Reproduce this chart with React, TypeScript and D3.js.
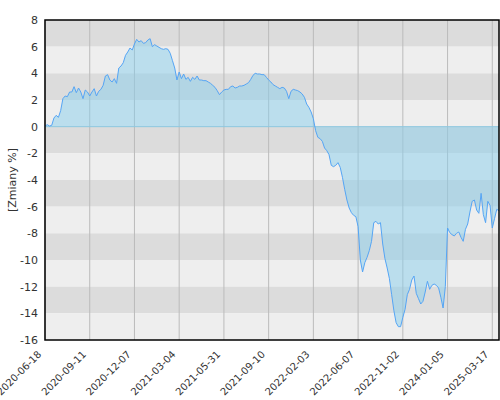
import React from "react";
import * as d3 from "d3";

const tickLabels = [
  "2020-06-18", "2020-09-11", "2020-12-07", "2021-03-04", "2021-05-31",
  "2021-09-10", "2022-02-03", "2022-06-07", "2022-11-02", "2024-01-05", "2025-03-17",
];
const tickStep = 20;
const yTicks = [8, 6, 4, 2, 0, -2, -4, -6, -8, -10, -12, -14, -16];

const values = [
  0.05, 0.15, 0.05, 0.1, 0.65, 0.85, 0.7, 1.2, 2.1, 2.3,
  2.25, 2.6, 2.6, 3.0, 2.55, 2.9, 2.6, 2.1, 2.75, 2.6,
  2.3, 2.6, 2.85, 2.3, 2.65, 2.8, 3.1, 3.8, 3.9, 3.5,
  3.35, 3.6, 3.25, 4.4, 4.55, 4.8, 5.35, 5.6, 5.9, 5.75,
  6.2, 6.55, 6.35, 6.45, 6.25, 6.3, 6.5, 6.6, 6.0, 6.15,
  6.05, 5.95, 5.85, 5.8, 5.85, 5.8, 5.5, 4.95, 4.4, 3.5,
  4.1, 3.6, 3.95, 3.55, 3.7, 3.4, 3.7, 3.55, 3.8, 3.5,
  3.5, 3.45, 3.45, 3.35, 3.25, 3.1, 2.95, 2.7, 2.4, 2.6,
  2.75, 2.8, 2.8, 3.0, 3.05, 2.9, 2.95, 3.05, 3.05, 3.1,
  3.2, 3.3, 3.55, 3.85, 4.0, 3.95, 3.95, 3.9, 3.9, 3.7,
  3.5, 3.35, 3.15, 3.05, 2.95, 2.85, 2.95, 2.9, 2.65, 2.1,
  2.65, 2.8, 2.75, 2.7, 2.6, 2.45, 2.2, 1.7, 1.45, 1.1,
  0.6, -0.3, -0.8, -0.9, -1.1, -1.6, -1.8, -2.1, -2.9, -3.0,
  -2.9, -2.7, -3.05, -3.8, -4.7, -5.5, -6.1, -6.45, -6.65, -6.75,
  -7.5, -10.0, -10.9, -10.2, -9.8, -9.3, -8.6, -7.2, -7.1, -7.3,
  -7.2, -8.8, -9.9, -10.6, -11.4, -12.6, -13.8, -14.7, -15.0, -15.0,
  -14.3, -13.7, -12.6, -12.2, -11.5, -11.2, -12.5, -12.9, -13.3, -13.1,
  -12.4, -11.6, -12.2, -11.9, -11.8, -11.9, -12.1, -12.8, -13.6, -12.0,
  -7.6, -7.95, -8.1, -8.2, -8.0, -7.9, -8.3, -8.6, -7.7, -7.3,
  -6.4, -5.6, -5.5, -6.25, -6.5, -5.0, -6.6, -7.2, -5.6, -5.9,
  -7.6, -6.9, -6.2, -6.3,
];

const W = 500;
const H = 400;
const L = 45;
const R = 499;
const T = 20;
const B = 340;

export default function App() {
  const x = d3.scaleLinear().domain([0, values.length - 1]).range([L, R]);
  const y = d3.scaleLinear().domain([-16, 8]).range([B, T]);

  const area = d3
    .area<number>()
    .x((_, i) => x(i))
    .y0(y(0))
    .y1((d) => y(d));
  const line = d3
    .line<number>()
    .x((_, i) => x(i))
    .y((d) => y(d));

  const bands = d3.range(8, -16, -2);
  const font = "DejaVu Sans, sans-serif";

  return (
    <svg width={W} height={H} style={{ position: "absolute", left: 0, top: 0 }}>
      <rect x={0} y={0} width={W} height={H} fill="#ffffff" />
      {bands.map((b, i) => (
        <rect
          key={b}
          x={L}
          y={y(b)}
          width={R - L}
          height={y(b - 2) - y(b)}
          fill={i % 2 === 0 ? "#dcdcdc" : "#eeeeee"}
        />
      ))}
      {tickLabels.map((t, i) => (
        <line
          key={t}
          x1={x(i * tickStep)}
          x2={x(i * tickStep)}
          y1={T}
          y2={B}
          stroke="#bbbbbb"
          strokeWidth={1}
        />
      ))}
      <path d={area(values) || ""} fill="#87ceeb" fillOpacity={0.5} />
      <line x1={L} x2={R} y1={y(0)} y2={y(0)} stroke="#8ec8df" strokeWidth={1} />
      <path d={line(values) || ""} fill="none" stroke="#55a5f5" strokeWidth={1} />
      <rect x={L} y={T} width={R - L} height={B - T} fill="none" stroke="#000" strokeWidth={1.5} />
      {yTicks.map((v) => (
        <text
          key={v}
          x={38}
          y={y(v)}
          dy="0.35em"
          textAnchor="end"
          fontFamily={font}
          fontSize={11}
          fill="#333"
        >
          {v}
        </text>
      ))}
      <text
        transform={`translate(16,${(T + B) / 2}) rotate(-90)`}
        textAnchor="middle"
        fontFamily={font}
        fontSize={11}
        fill="#333"
      >
        [Zmiany %]
      </text>
      {tickLabels.map((t, i) => (
        <text
          key={t}
          transform={`translate(${x(i * tickStep) - 3},${B + 15}) rotate(-45)`}
          textAnchor="end"
          fontFamily={font}
          fontSize={10}
          fill="#333"
        >
          {t}
        </text>
      ))}
    </svg>
  );
}
